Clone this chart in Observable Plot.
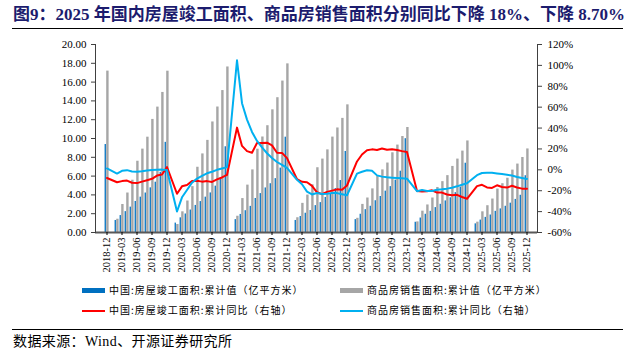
<!DOCTYPE html>
<html>
<head>
<meta charset="utf-8">
<script src="https://cdn.jsdelivr.net/npm/d3@7"></script>
<script src="https://cdn.jsdelivr.net/npm/@observablehq/plot@0.6"></script>
<style>
  html, body { margin: 0; padding: 0; background: #fff; }
  #wrap { position: relative; width: 625px; height: 352px; overflow: hidden; font-family: "Liberation Serif", "Noto Sans CJK SC", serif; }
  #title { position: absolute; left: 13px; top: 3px; font-size: 17px; font-weight: bold; color: #1c1c6e; white-space: nowrap; line-height: 24px; }
  .rule { position: absolute; left: 12px; width: 611px; height: 0; border-top: 1.5px solid #000; }
  #chart { position: absolute; left: 0; top: 30px; }
  .leg { position: absolute; font-family: "Noto Sans CJK SC", sans-serif; font-size: 10px; letter-spacing: 1px; color: #000; white-space: nowrap; line-height: 14px; }
  .sw { position: absolute; }
  #source { position: absolute; left: 13px; top: 333px; font-size: 14px; letter-spacing: 0.4px; color: #000; white-space: nowrap; line-height: 18px; }
</style>
</head>
<body>
<div id="wrap">
  <div id="title">图9：2025 年国内房屋竣工面积、商品房销售面积分别同比下降 18%、下降 8.70%</div>
  <div class="rule" style="top:28px"></div>
  <div id="chart"></div>
  <div id="legend"></div>
  <div class="rule" style="top:329px"></div>
  <div id="source">数据来源：Wind、开源证券研究所</div>
</div>
<script>
// Months from 2018-12 to 2025-12
const months = ["2018-12"];
for (let y = 2019; y <= 2025; y++) for (let m = 1; m <= 12; m++) months.push(`${y}-${String(m).padStart(2, "0")}`);

// 中国:房屋竣工面积:累计值（亿平方米） (January not published)
const completion = [
  9.36,
  null, 1.28, 1.80, 2.22, 2.70, 3.30, 3.76, 4.20, 4.75, 5.35, 6.40, 9.59,
  null, 1.00, 1.56, 1.97, 2.39, 2.88, 3.29, 3.76, 4.21, 4.93, 5.78, 9.12,
  null, 1.37, 1.92, 2.32, 2.78, 3.62, 4.14, 4.74, 5.19, 5.73, 6.85, 10.14,
  null, 1.28, 1.70, 2.05, 2.34, 2.86, 3.18, 3.73, 4.15, 4.67, 5.53, 8.62,
  null, 1.37, 1.94, 2.43, 2.79, 3.38, 3.83, 4.40, 4.88, 5.57, 6.52, 9.98,
  null, 1.09, 1.54, 1.94, 2.25, 2.65, 3.00, 3.36, 3.69, 4.24, 4.83, 7.37,
  null, 0.92, 1.32, 1.61, 1.86, 2.25, 2.51, 2.79, 3.12, 3.52, 3.96, 6.04
];
// 商品房销售面积:累计值（亿平方米）
const sales = [
  17.17,
  null, 1.41, 2.98, 4.20, 5.56, 7.58, 8.87, 10.14, 12.03, 13.34, 14.90, 17.16,
  null, 0.85, 2.20, 3.35, 4.88, 6.94, 8.36, 9.80, 11.76, 13.35, 15.10, 17.61,
  null, 1.73, 3.61, 5.04, 6.66, 8.86, 10.16, 11.36, 13.05, 14.34, 16.11, 17.94,
  null, 1.57, 3.10, 3.98, 5.07, 6.89, 7.81, 8.79, 10.15, 11.12, 12.14, 13.58,
  null, 1.51, 2.99, 3.67, 4.64, 5.95, 6.66, 7.39, 8.48, 9.30, 10.21, 11.17,
  null, 1.13, 2.27, 2.93, 3.67, 4.79, 5.41, 6.05, 7.03, 7.81, 8.66, 9.74,
  null, 1.10, 2.20, 2.85, 3.56, 4.62, 5.19, 5.77, 6.64, 7.28, 7.98, 8.89
];
// 中国:房屋竣工面积:累计同比（%，右轴）
const completionYoY = [
  -7.8,
  null, -11.9, -10.8, -10.3, -12.4, -12.7, -11.3, -10.0, -8.6, -5.5, -4.5, 2.6,
  null, -22.9, -15.8, -14.5, -10.8, -10.5, -11.3, -10.8, -11.6, -9.2, -7.3, -4.9,
  null, 40.4, 22.9, 17.9, 16.4, 25.7, 25.7, 26.0, 23.4, 16.3, 16.2, 11.2,
  null, -9.0, -11.5, -11.9, -15.3, -21.5, -23.3, -21.1, -19.9, -18.7, -19.0, -15.0,
  null, 8.0, 14.7, 18.8, 19.6, 19.0, 20.5, 19.2, 19.8, 19.0, 17.9, 17.0,
  null, -20.2, -20.7, -20.4, -19.6, -21.8, -21.8, -23.6, -24.4, -23.9, -26.0, -27.7,
  null, -15.6, -14.3, -16.9, -17.3, -14.8, -16.5, -17.0, -15.3, -16.9, -18.0, -18.0
];
// 商品房销售面积:累计同比（%，右轴）
const salesYoY = [
  1.3,
  null, -3.6, -0.9, -0.3, -1.6, -1.8, -1.3, -0.6, -0.1, 0.1, 0.2, -0.1,
  null, -39.9, -26.3, -19.3, -12.3, -8.4, -5.8, -3.3, -1.8, 0.0, 1.3, 2.6,
  null, 104.9, 63.8, 48.1, 36.3, 27.7, 21.5, 15.9, 11.3, 7.5, 4.8, 1.9,
  null, -9.6, -13.8, -20.9, -23.6, -22.2, -23.1, -23.0, -22.2, -22.3, -23.3, -24.3,
  null, -3.6, -1.8, -0.4, -0.9, -5.3, -6.5, -7.1, -7.5, -7.8, -8.0, -8.5,
  null, -20.5, -19.4, -20.2, -20.3, -19.0, -18.6, -18.0, -17.1, -15.8, -14.3, -12.9,
  null, -5.1, -3.0, -2.8, -2.9, -3.5, -4.0, -4.7, -5.5, -6.8, -7.8, -8.7
];

const leftTicks = [0, 2, 4, 6, 8, 10, 12, 14, 16, 18, 20];
const rightTicks = [-60, -40, -20, 0, 20, 40, 60, 80, 100, 120];
const xTickMonths = months.filter((m, i) => i % 3 === 0);

const legendItems = [
  {label: "中国:房屋竣工面积:累计值（亿平方米）", color: "#0070C0", kind: "bar"},
  {label: "商品房销售面积:累计值（亿平方米）", color: "#A6A6A6", kind: "bar"},
  {label: "中国:房屋竣工面积:累计同比（右轴）", color: "#FF0000", kind: "line"},
  {label: "商品房销售面积:累计同比（右轴）", color: "#00B0F0", kind: "line"}
];

// right-axis percent -> left-axis units (-60%..120% maps onto 0..20)
const pctToLeft = p => (p + 60) * 20 / 180;
const leftToPct = v => Math.round(v * 180 / 20 - 60);

const rows = months.map((m, i) => ({m, c: completion[i], s: sales[i], cy: completionYoY[i], sy: salesYoY[i]}));

const chart = Plot.plot({
  width: 625,
  height: 250,
  marginTop: 14,
  marginBottom: 48,
  marginLeft: 95,
  marginRight: 88,
  style: {fontFamily: "'Liberation Serif', serif", fontSize: "11px", color: "#000", background: "transparent", overflow: "visible"},
  x: {type: "band", domain: months, padding: 0, axis: null},
  y: {domain: [0, 20], axis: null},
  marks: [
    Plot.barY(rows.filter(d => d.c != null), {x: "m", y: "c", fill: "#0070C0", insetLeft: 0.6, insetRight: 3.1}),
    Plot.barY(rows.filter(d => d.s != null), {x: "m", y: "s", fill: "#A6A6A6", insetLeft: 2.2, insetRight: 0.4}),
    Plot.lineY(rows.filter(d => d.cy != null), {x: "m", y: d => pctToLeft(d.cy), stroke: "#FF0000", strokeWidth: 2}),
    Plot.lineY(rows.filter(d => d.sy != null), {x: "m", y: d => pctToLeft(d.sy), stroke: "#00B0F0", strokeWidth: 2}),
    Plot.ruleY([0], {stroke: "#595959", strokeWidth: 2}),
    Plot.frame({anchor: "left", stroke: "#404040"}),
    Plot.frame({anchor: "right", stroke: "#404040"}),
    Plot.axisY({anchor: "left", ticks: leftTicks, tickFormat: d3.format(".2f"), tickSize: 4, tickPadding: 5, label: null, stroke: "#404040"}),
    Plot.axisY({anchor: "right", ticks: rightTicks.map(pctToLeft), tickFormat: v => `${leftToPct(v)}%`, tickSize: 4, tickPadding: 6, label: null, stroke: "#404040"}),
    Plot.axisX({ticks: xTickMonths, tickRotate: -90, tickSize: 3, tickPadding: 2, label: null, fontSize: 10.5})
  ]
});
document.getElementById("chart").appendChild(chart);

// Legend (HTML, below the SVG)
const legend = document.getElementById("legend");
const pos = [[82, 283], [340, 283], [82, 303], [340, 303]];
legendItems.forEach((it, i) => {
  const [lx, ly] = pos[i];
  const sw = document.createElement("div");
  sw.className = "sw";
  sw.style.left = lx + "px";
  sw.style.width = "23px";
  sw.style.background = it.color;
  if (it.kind === "bar") { sw.style.top = (ly + 5) + "px"; sw.style.height = "5px"; }
  else { sw.style.top = (ly + 6.5) + "px"; sw.style.height = "2px"; }
  legend.appendChild(sw);
  const t = document.createElement("div");
  t.className = "leg";
  t.style.left = (lx + 27) + "px";
  t.style.top = ly + "px";
  t.textContent = it.label;
  legend.appendChild(t);
});
</script>
</body>
</html>
